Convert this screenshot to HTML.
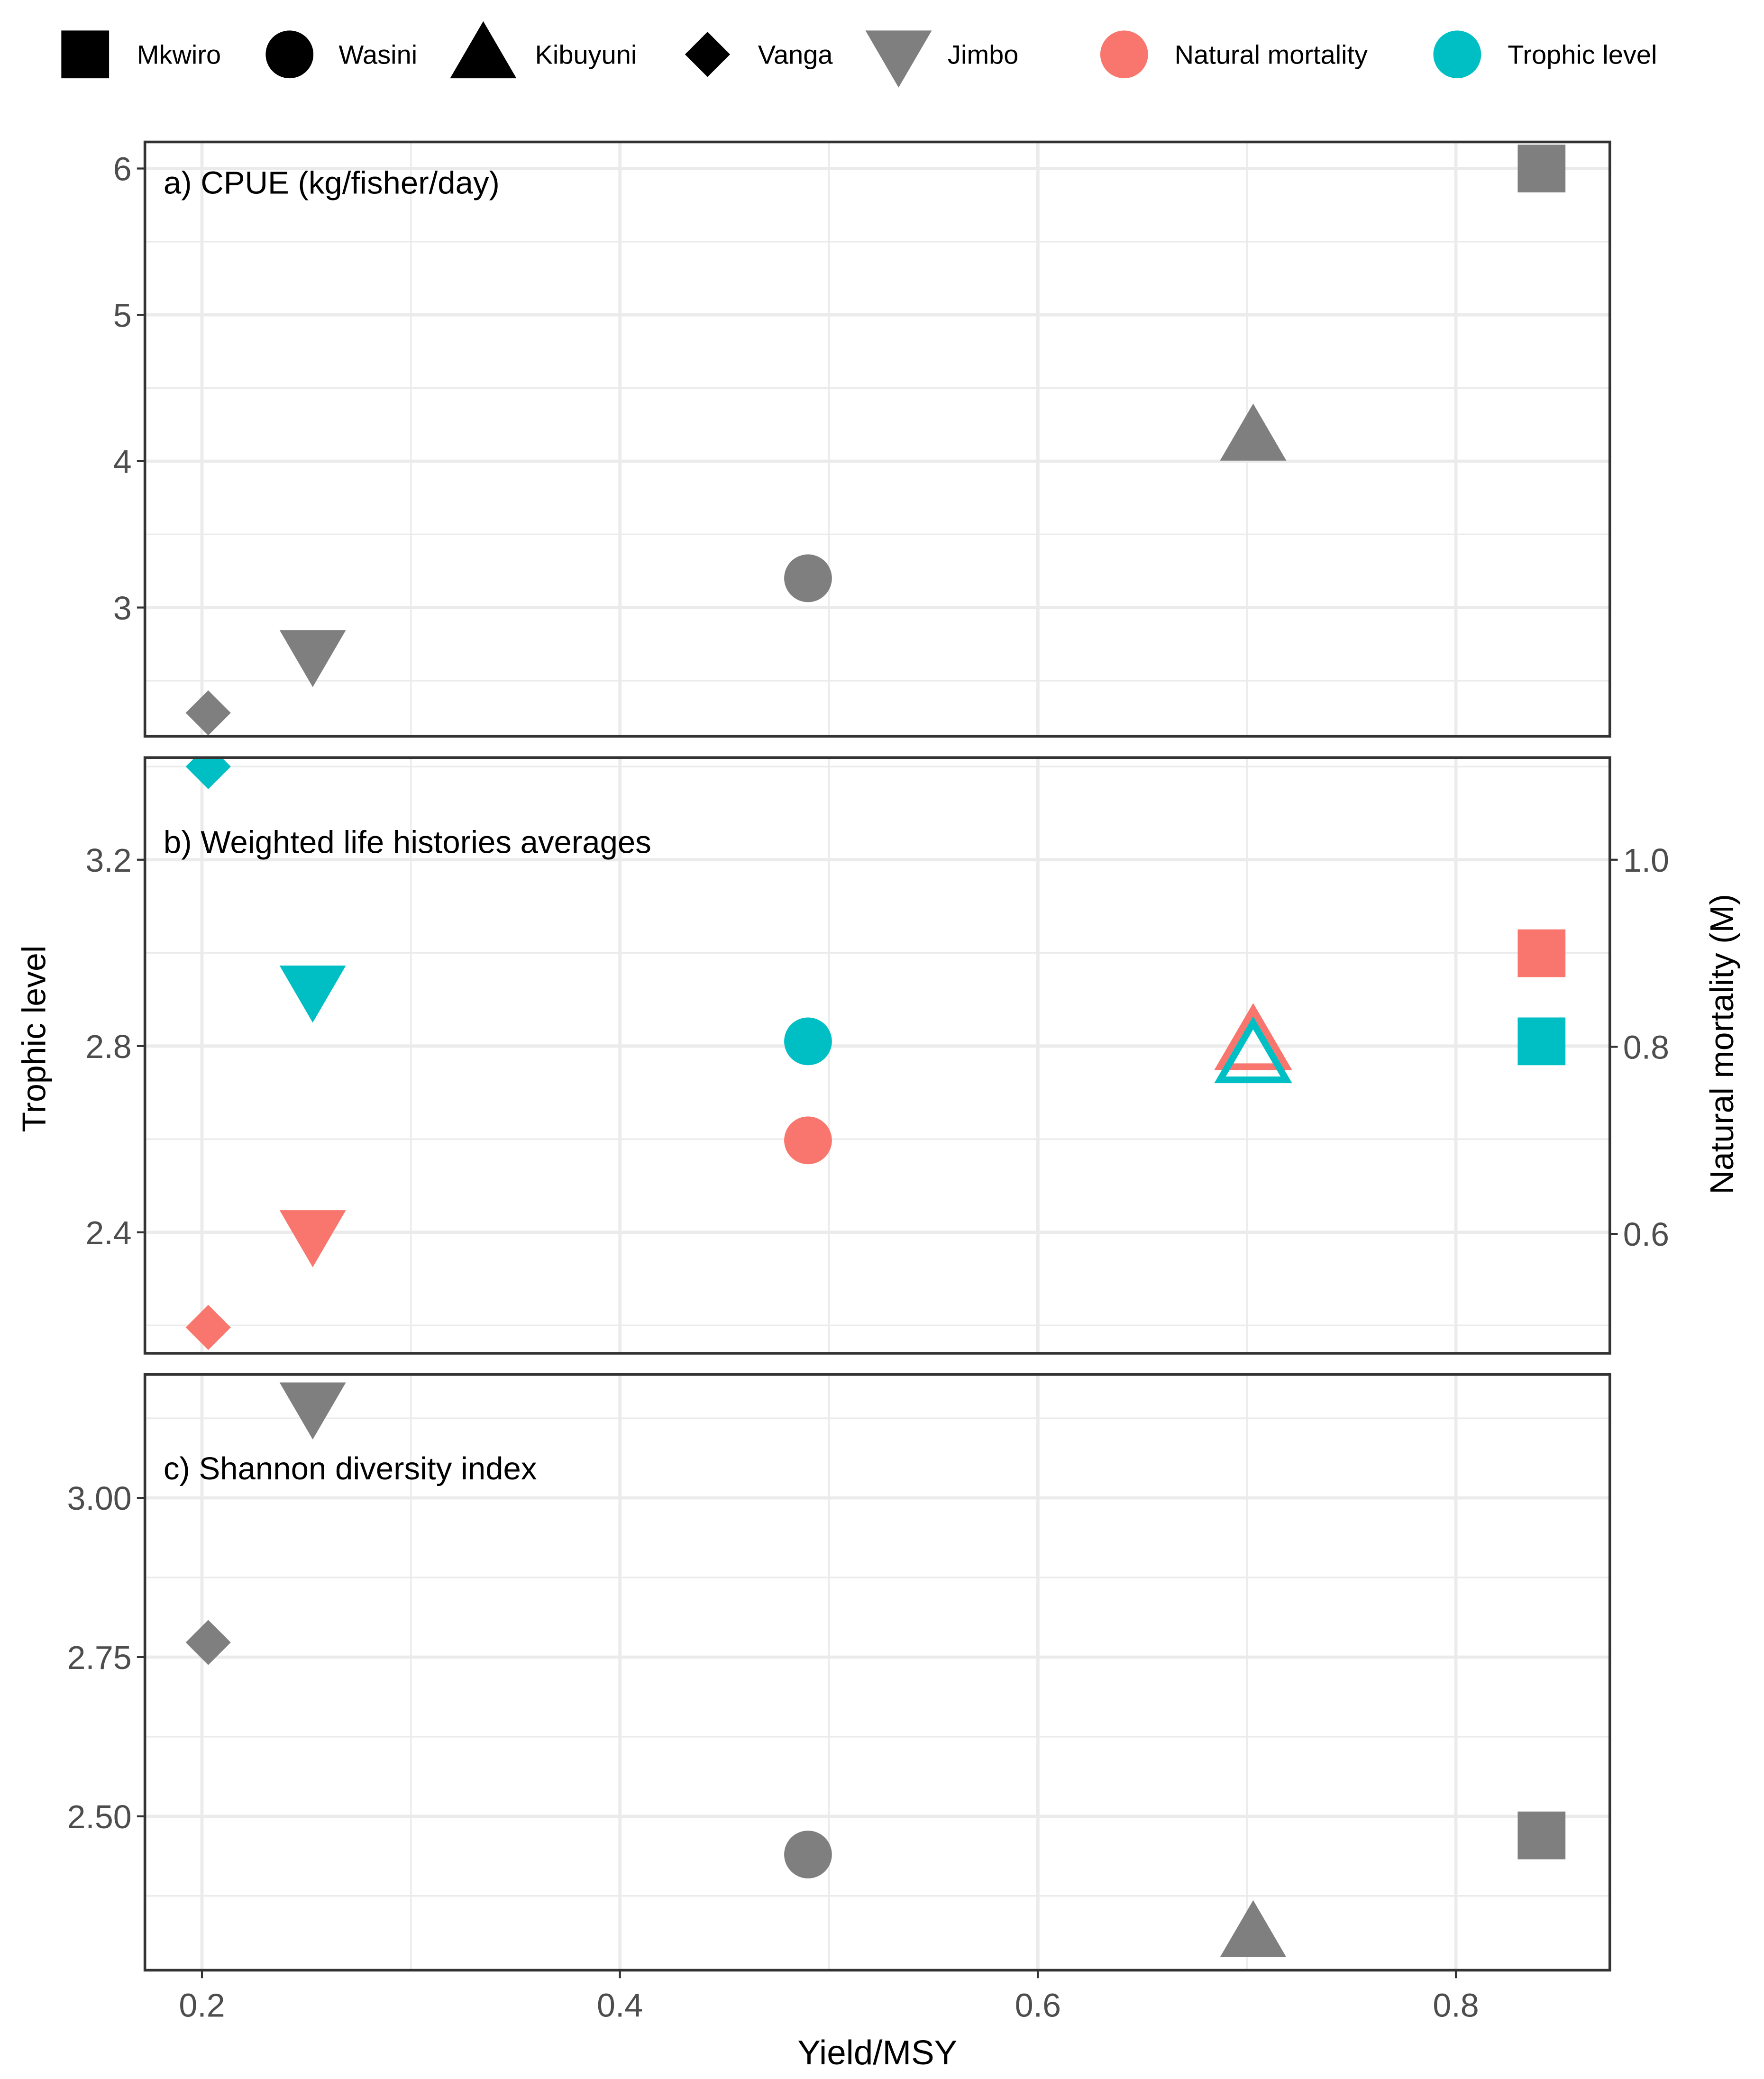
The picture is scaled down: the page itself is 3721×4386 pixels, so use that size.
<!DOCTYPE html>
<html><head><meta charset="utf-8"><style>
html,body{margin:0;padding:0;background:#fff}
svg{display:block}
text{font-family:"Liberation Sans",sans-serif}
</style></head><body>
<svg id="chart" width="3721" height="4386" viewBox="0 0 1329 1567" xmlns="http://www.w3.org/2000/svg">
<defs>
<clipPath id="cpa"><rect x="109" y="107" width="1104" height="448"/></clipPath>
<clipPath id="cpb"><rect x="109" y="571" width="1104" height="449"/></clipPath>
<clipPath id="cpc"><rect x="109" y="1036" width="1104" height="449"/></clipPath>
</defs>
<g id="root"></g>
</svg>
<script>
const sites = ['Mkwiro','Wasini','Kibuyuni','Vanga','Jimbo'];
const shapes = ['square','circle','triangle','diamond','triangleDown'];
const yieldMSY = [0.841, 0.490, 0.703, 0.203, 0.253];
const cpue = [6.0, 3.2, 4.14, 2.28, 2.71];
const trophic = [2.81, 2.81, 2.77, 3.40, 2.93];
const mortality = [0.90, 0.70, 0.80, 0.50, 0.604];
const shannon = [2.47, 2.44, 2.31, 2.773, 3.15];
const xTicks = [0.2, 0.4, 0.6, 0.8];
const xTickLabels = ['0.2','0.4','0.6','0.8'];
const aTicks = [3,4,5,6];
const bTicks = [2.4,2.8,3.2];
const bTickLabels = ['2.4','2.8','3.2'];
const bRightTicks = [0.6,0.8,1.0];
const bRightLabels = ['0.6','0.8','1.0'];
const cTicks = [2.5,2.75,3.0];
const cTickLabels = ['2.50','2.75','3.00'];

const NS='http://www.w3.org/2000/svg';
const root=document.getElementById('root');
function el(tag,attrs,parent){const e=document.createElementNS(NS,tag);for(const k in attrs)e.setAttribute(k,attrs[k]);(parent||root).appendChild(e);return e;}
const L=109,R=1213;
const xs=v=>152+(v-0.2)*1575;
const ya=v=>127+(6-v)*110.3;
const yb=v=>648+(3.2-v)*351;
const ybr=v=>648+(1.0-v)*705;
const yc=v=>1129+(3.0-v)*480;
const RED='#F8766D',CYAN='#00BFC4',GREY='#7f7f7f';

function marker(shape,cx,cy,color,parent,hollow){
  let e;const s=18;
  const fill=hollow?'none':color, stroke=hollow?color:'none';
  if(shape==='square')e=el('rect',{x:cx-s,y:cy-s,width:2*s,height:2*s,fill:fill,stroke:stroke,'stroke-width':5},parent);
  else if(shape==='circle')e=el('circle',{cx:cx,cy:cy,r:18,fill:fill,stroke:stroke,'stroke-width':5},parent);
  else if(shape==='triangle')e=el('polygon',{points:`${cx},${cy-28} ${cx+25},${cy+15} ${cx-25},${cy+15}`,fill:fill,stroke:stroke,'stroke-width':5},parent);
  else if(shape==='triangleDown')e=el('polygon',{points:`${cx},${cy+28} ${cx+25},${cy-15} ${cx-25},${cy-15}`,fill:fill,stroke:stroke,'stroke-width':5},parent);
  else e=el('polygon',{points:`${cx},${cy-17} ${cx+17},${cy} ${cx},${cy+17} ${cx-17},${cy}`,fill:fill,stroke:stroke,'stroke-width':5},parent);
  return e;
}

function panel(name,top,bot,ys,ticks,labels,minor,clip){
  const g=el('g',{});
  
  
  el('rect',{x:L,y:top,width:R-L,height:bot-top,fill:'#fff'},g);
  [0.3,0.5,0.7].forEach(v=>el('line',{x1:xs(v),x2:xs(v),y1:top,y2:bot,stroke:'#ebebeb','stroke-width':1.2},g));
  minor.forEach(v=>el('line',{x1:L,x2:R,y1:ys(v),y2:ys(v),stroke:'#ebebeb','stroke-width':1.2},g));
  xTicks.forEach(v=>el('line',{x1:xs(v),x2:xs(v),y1:top,y2:bot,stroke:'#ebebeb','stroke-width':2.4},g));
  ticks.forEach((v,i)=>{
    el('line',{x1:L,x2:R,y1:ys(v),y2:ys(v),stroke:'#ebebeb','stroke-width':2.4},g);
    el('line',{x1:L-6,x2:L,y1:ys(v),y2:ys(v),stroke:'#333','stroke-width':1.5},g);
    const t=el('text',{x:L-10,y:ys(v)+9,'text-anchor':'end','font-size':25,fill:'#4d4d4d'},g);
    t.textContent=labels[i];
    
    
  });
  const pg=el('g',{'clip-path':`url(#${clip})`},g);
  return {g,pg};
}

const pa=panel('cpue',107,555,ya,aTicks,aTicks.map(String),[2.5,3.5,4.5,5.5],'cpa');
sites.forEach((s,i)=>{const m=marker(shapes[i],xs(yieldMSY[i]),ya(cpue[i]),GREY,pa.pg);
  
  });
const pb=panel('life-history',571,1020,yb,bTicks,bTickLabels,[2.2,2.6,3.0,3.4],'cpb');
bRightTicks.forEach((v,i)=>{
  el('line',{x1:R,x2:R+6,y1:ybr(v),y2:ybr(v),stroke:'#333','stroke-width':1.5},pb.g);
  const t=el('text',{x:R+10,y:ybr(v)+9,'font-size':25,fill:'#4d4d4d'},pb.g);t.textContent=bRightLabels[i];
  
  
});
sites.forEach((s,i)=>{
  const hollow=shapes[i]==='triangle';
  const m1=marker(shapes[i],xs(yieldMSY[i]),ybr(mortality[i]),RED,pb.pg,hollow);
  
  
  const m2=marker(shapes[i],xs(yieldMSY[i]),yb(trophic[i]),CYAN,pb.pg,hollow);
  
  
});
const pc=panel('shannon',1036,1485,yc,cTicks,cTickLabels,[2.375,2.625,2.875,3.125],'cpc');
sites.forEach((s,i)=>{const m=marker(shapes[i],xs(yieldMSY[i]),yc(shannon[i]),GREY,pc.pg);
  
  });
[[107,555],[571,1020],[1036,1485]].forEach(p=>el('rect',{x:L,y:p[0],width:R-L,height:p[1]-p[0],fill:'none',stroke:'#333','stroke-width':2}));
xTicks.forEach((v,i)=>{
  el('line',{x1:xs(v),x2:xs(v),y1:1485,y2:1491,stroke:'#333','stroke-width':1.5});
  const t=el('text',{x:xs(v),y:1520,'text-anchor':'middle','font-size':25,fill:'#4d4d4d'});t.textContent=xTickLabels[i];
  
  
});
function txt(s,x,y,size,name,extra){const t=el('text',Object.assign({x:x,y:y,'font-size':size,fill:'#000'},extra||{}));t.textContent=s;
  
  return t;}
txt('a) CPUE (kg/fisher/day)',123,146,24,'panel-a-title');
txt('b) Weighted life histories averages',123,643,24,'panel-b-title');
txt('c) Shannon diversity index',123,1115,24,'panel-c-title');
txt('Yield/MSY',661,1556,26,'x-axis-title',{'text-anchor':'middle'});
txt('Trophic level',34,783,25,'y-axis-title-left',{'text-anchor':'middle',transform:'rotate(-90 34 783)'});
txt('Natural mortality (M)',1306,787,25,'y-axis-title-right',{'text-anchor':'middle',transform:'rotate(-90 1306 787)'});
// legend
const leg=[['square',64,'Mkwiro',103,'#000'],['circle',218,'Wasini',255,'#000'],['triangle',364,'Kibuyuni',403,'#000'],['diamond',533,'Vanga',571,'#000'],['triangleDown',677,'Jimbo',714,GREY]];
leg.forEach(l=>{const m=marker(l[0],l[1],l[0]==='triangleDown'?38:(l[0]==='triangle'?44:41),l[4]);
  
  
  txt(l[2],l[3],48,20,'legend-label-'+l[2].toLowerCase());});
const c1=el('circle',{cx:847,cy:41,r:18,fill:RED});


txt('Natural mortality',885,48,20,'legend-label-natural-mortality');
const c2=el('circle',{cx:1098,cy:41,r:18,fill:CYAN});


txt('Trophic level',1136,48,20,'legend-label-trophic-level');
</script>
</body></html>
